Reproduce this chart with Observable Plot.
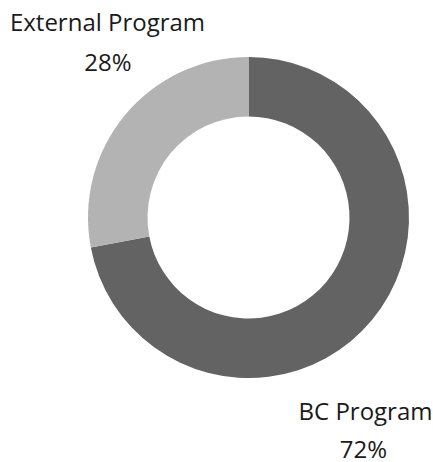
<!DOCTYPE html>
<html>
<head>
<meta charset="utf-8">
<script src="https://cdn.jsdelivr.net/npm/d3@7"></script>
<script src="https://cdn.jsdelivr.net/npm/@observablehq/plot@0.6"></script>
<style>
  html, body { margin: 0; padding: 0; background: #fff; }
  #chart svg { display: block; }
</style>
</head>
<body>
<div id="chart"></div>
<script>
// ---- data ----
const categories = ["BC Program", "External Program"];
const values = [72, 28];
const colors = ["#636363", "#b3b3b3"];

// ---- layout (not data) ----
const W = 433, H = 462;
const center = { x: 248.5, y: 217.5 };
const outerR = 160.5, innerR = 101;
// label anchors: name center/mid-line and percent center/mid-line
const labelAnchors = {
  "External Program": { nx: 107, ny: 22.8, px: 107.5, py: 63.3 },
  "BC Program": { nx: 365, ny: 412.3, px: 363, py: 450.3 }
};

const total = d3.sum(values);
const table = categories.map((c, i) => ({
  category: c,
  value: values[i],
  pct: Math.round(values[i] / total * 100) + "%",
  ...labelAnchors[c]
}));

const colorScale = Plot.scale({ color: { type: "ordinal", domain: categories, range: colors } });

const pie = d3.pie().sort(null).value(d => d.value).startAngle(0);
const arcs = pie(table);

function donutMark(index, scales, values, dimensions) {
  const cx = scales.x(center.x), cy = scales.y(center.y);
  const k = scales.x(1) - scales.x(0);
  const arcGen = d3.arc().innerRadius(innerR * k).outerRadius(outerR * k);
  const g = d3.create("svg:g").attr("transform", `translate(${cx},${cy})`);
  g.selectAll("path")
    .data(arcs)
    .join("path")
    .attr("d", arcGen)
    .attr("fill", d => colorScale.apply(d.data.category))
    .attr("stroke", "none");
  return g.node();
}

const fontFamily = "'Open Sans', 'Noto Sans', sans-serif";

const chart = Plot.plot({
  width: W,
  height: H,
  margin: 0,
  x: { domain: [0, W], range: [0, W], axis: null },
  y: { domain: [0, H], range: [0, H], axis: null },
  style: { fontFamily, background: "#fff", overflow: "visible" },
  marks: [
    donutMark,
    Plot.text(table, {
      x: "nx", y: "ny", text: "category",
      fontSize: 24, fill: "#1a1a1a", textAnchor: "middle", lineAnchor: "middle"
    }),
    Plot.text(table, {
      x: "px", y: "py", text: "pct",
      fontSize: 24, fill: "#1a1a1a", textAnchor: "middle", lineAnchor: "middle"
    })
  ]
});

document.getElementById("chart").appendChild(chart);
</script>
</body>
</html>
